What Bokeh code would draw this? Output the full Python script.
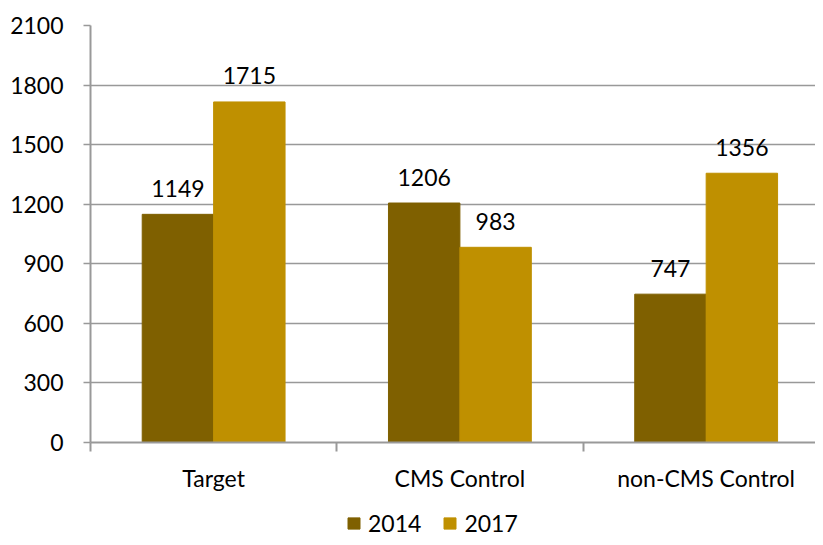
from bokeh.plotting import figure
from bokeh.models import (Range1d, FixedTicker, Legend, LegendItem, ColumnDataSource,
                          LinearAxis, Grid)
from bokeh.layouts import column
from bokeh.transform import dodge
from bokeh.core.properties import value
from bokeh.embed import file_html
from bokeh.resources import INLINE

categories = ["Target", "CMS Control", "non-CMS Control"]
years = ["2014", "2017"]
values_2014 = [1149, 1206, 747]
values_2017 = [1715, 983, 1356]
y_ticks = [0, 300, 600, 900, 1200, 1500, 1800, 2100]

colors = {"2014": "#7F6000", "2017": "#BF9000"}
FONT = "Lato"
GRAY = "#999999"

centers = [i + 0.5 for i in range(len(categories))]
src = ColumnDataSource(dict(
    x=centers,
    v2014=values_2014,
    v2017=values_2017,
    t2014=[str(v) for v in values_2014],
    t2017=[str(v) for v in values_2017],
))

p = figure(width=815, height=505, output_backend="svg", toolbar_location=None,
           x_range=Range1d(0, 2.944), y_range=Range1d(0, 2100),
           min_border_left=90, min_border_right=0, min_border_top=25, min_border_bottom=63,
           x_axis_location=None, y_axis_location=None)
p.outline_line_color = None
p.background_fill_color = "white"
p.border_fill_color = "white"
p.xgrid.visible = False
p.ygrid.visible = False

bw = 0.29
p.vbar(x=dodge("x", -bw / 2, range=p.x_range), top="v2014", width=bw, source=src,
       fill_color=colors["2014"], line_color=colors["2014"])
p.vbar(x=dodge("x", bw / 2, range=p.x_range), top="v2017", width=bw, source=src,
       fill_color=colors["2017"], line_color=colors["2017"])

for col, txt, off in (("v2014", "t2014", -bw / 2), ("v2017", "t2017", bw / 2)):
    p.text(x=dodge("x", off, range=p.x_range), y=col, text=txt, source=src,
           text_font=value(FONT), text_font_size="23px", text_color="black",
           text_align="center", text_baseline="alphabetic", y_offset=-26)

# y axis
yaxis = LinearAxis(ticker=FixedTicker(ticks=y_ticks))
yaxis.axis_line_color = GRAY
yaxis.axis_line_width = 2
yaxis.major_tick_line_color = GRAY
yaxis.major_tick_line_width = 1.5
yaxis.major_tick_out = 7
yaxis.major_tick_in = 0
yaxis.minor_tick_line_color = None
yaxis.major_label_text_font = FONT
yaxis.major_label_text_font_size = "23px"
yaxis.major_label_text_color = "black"
yaxis.major_label_standoff = 20
p.add_layout(yaxis, "left")

# x axis
xaxis = LinearAxis(ticker=FixedTicker(ticks=centers, minor_ticks=[0, 1, 2, 3]))
xaxis.major_label_overrides = {c: name for c, name in zip(centers, categories)}
xaxis.axis_line_color = GRAY
xaxis.axis_line_width = 2
xaxis.major_tick_line_color = None
xaxis.major_tick_out = 0
xaxis.major_tick_in = 0
xaxis.minor_tick_line_color = GRAY
xaxis.minor_tick_line_width = 2
xaxis.minor_tick_out = 9
xaxis.minor_tick_in = 0
xaxis.major_label_text_font = FONT
xaxis.major_label_text_font_size = "23px"
xaxis.major_label_text_color = "black"
xaxis.major_label_standoff = 12
p.add_layout(xaxis, "below")

p.add_layout(Grid(dimension=1, ticker=FixedTicker(ticks=y_ticks),
                  grid_line_color=GRAY, grid_line_width=1.5))

# legend in its own strip below the chart (its frame is aligned with the chart's frame)
lf = figure(width=815, height=32, output_backend="svg", toolbar_location=None,
            x_range=Range1d(0, 1), y_range=Range1d(0, 1),
            min_border=0, x_axis_location=None, y_axis_location=None)
lf.outline_line_color = None
lf.xgrid.visible = False
lf.ygrid.visible = False
offscreen = ColumnDataSource(dict(x=[5], top=[5]))
l1 = lf.vbar(x="x", bottom=4, top="top", width=0.1, source=offscreen,
             fill_color=colors["2014"], line_color=colors["2014"])
l2 = lf.vbar(x="x", bottom=4, top="top", width=0.1, source=offscreen,
             fill_color=colors["2017"], line_color=colors["2017"])
legend = Legend(items=[LegendItem(label=years[0], renderers=[l1]),
                       LegendItem(label=years[1], renderers=[l2])],
                orientation="horizontal", location=(256, 0),
                glyph_width=15, glyph_height=14, label_standoff=7, spacing=21,
                padding=0, margin=0, border_line_color=None, background_fill_alpha=0,
                label_text_font=FONT, label_text_font_size="23px", label_text_color="black")
lf.add_layout(legend)

open("out.html", "w").write(file_html(column(p, lf, spacing=0), INLINE))
